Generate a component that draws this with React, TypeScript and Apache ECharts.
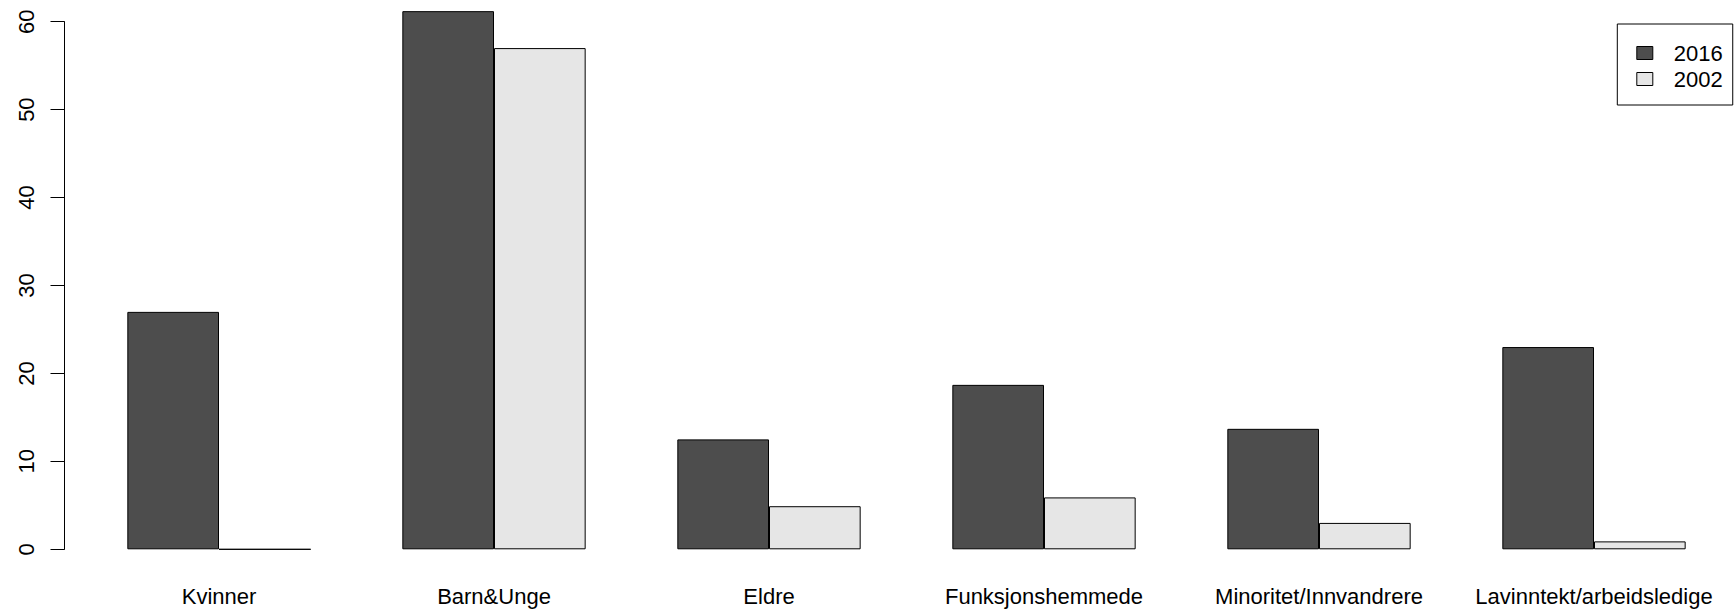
import React, { useEffect, useRef } from "react";
import * as echarts from "echarts";

const categories = [
  "Kvinner",
  "Barn&Unge",
  "Eldre",
  "Funksjonshemmede",
  "Minoritet/Innvandrere",
  "Lavinntekt/arbeidsledige",
];
const seriesNames = ["2016", "2002"];
const values2016 = [27, 61.2, 12.5, 18.7, 13.7, 23];
const values2002 = [0, 57, 4.9, 5.9, 3, 0.9];
const yTicks = [0, 10, 20, 30, 40, 50, 60];

const FONT = "'Liberation Sans', Arial, Helvetica, sans-serif";
const FS = 22;

export default function App() {
  const ref = useRef<HTMLDivElement>(null);
  useEffect(() => {
    if (!ref.current) return;
    const chart = echarts.init(ref.current, undefined, { renderer: "svg" });
    chart.setOption({
      animation: false,
      backgroundColor: "#ffffff",
      textStyle: { fontFamily: FONT },
      grid: { left: 81.5, width: 1650, top: 21.7, height: 527.6 },
      legend: {
        orient: "vertical",
        left: 1617.3,
        top: 24,
        data: seriesNames,
        icon: "rect",
        itemWidth: 16,
        itemHeight: 13,
        itemGap: 4,
        padding: [18, 10, 15, 19],
        borderColor: "#000",
        borderWidth: 1,
        borderRadius: 0,
        selectedMode: false,
        itemStyle: { borderColor: "#000", borderWidth: 1 },
        textStyle: {
          fontFamily: FONT,
          fontSize: FS,
          color: "#000",
          padding: [3, 0, 0, 16],
        },
      },
      xAxis: {
        type: "category",
        data: categories,
        axisLine: { show: false },
        axisTick: { show: false },
        axisLabel: {
          interval: 0,
          margin: 36,
          fontFamily: FONT,
          fontSize: FS,
          color: "#000",
        },
      },
      yAxis: {
        type: "value",
        min: 0,
        max: 60,
        interval: 10,
        offset: 17,
        splitLine: { show: false },
        axisLine: { show: true, lineStyle: { color: "#000", width: 1 } },
        axisTick: {
          show: true,
          length: 14,
          lineStyle: { color: "#000", width: 1 },
          customValues: yTicks,
        },
        axisLabel: {
          rotate: 90,
          margin: 27,
          fontFamily: FONT,
          fontSize: FS,
          color: "#000",
          customValues: yTicks,
        },
      },
      series: [
        {
          name: seriesNames[0],
          type: "bar",
          data: values2016,
          barGap: "0%",
          barCategoryGap: "33.333%",
          clip: false,
          itemStyle: { color: "#4d4d4d", borderColor: "#000", borderWidth: 1 },
        },
        {
          name: seriesNames[1],
          type: "bar",
          data: values2002,
          barGap: "0%",
          barCategoryGap: "33.333%",
          clip: false,
          itemStyle: { color: "#e6e6e6", borderColor: "#000", borderWidth: 1 },
        },
      ],
    });
    return () => chart.dispose();
  }, []);
  return (
    <div
      ref={ref}
      style={{ position: "absolute", left: 0, top: 0, width: 1735, height: 609 }}
    />
  );
}
